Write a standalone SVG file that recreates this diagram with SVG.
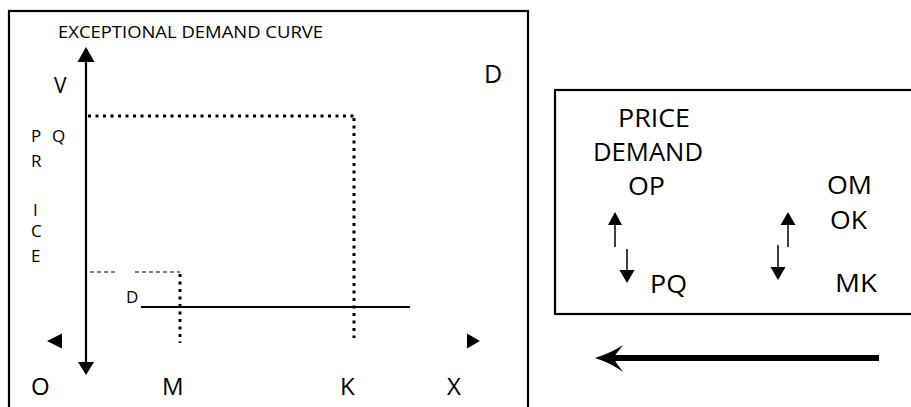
<svg xmlns="http://www.w3.org/2000/svg" width="911" height="407" viewBox="0 0 911 407">
  <style>
    text { font-family: "Open Sans", "Liberation Sans", sans-serif; fill: #000; }
    .frame { fill: #fff; stroke: #000; stroke-width: 2.2; }
    .axis { stroke: #000; stroke-width: 2.2; fill: none; }
    .dots { stroke: #000; stroke-width: 3; stroke-dasharray: 3 4.5; fill: none; }
    .dash { stroke: #000; stroke-width: 1.2; stroke-dasharray: 4 3; fill: none; }
    .thin { stroke: #000; stroke-width: 1.5; fill: none; }
    .head { fill: #000; stroke: none; }
    .big { font-size: 24px; }
    .mid { font-size: 25px; }
    .small { font-size: 17px; }
  </style>
  <rect width="911" height="407" fill="#fff"/>

  <!-- chart panel -->
  <g id="chart-panel">
    <rect class="frame" x="9" y="11" width="519" height="420"/>
    <text x="58" y="38" font-size="16.5" textLength="265" lengthAdjust="spacingAndGlyphs">EXCEPTIONAL DEMAND CURVE</text>
    <text x="54" y="93" font-size="21">V</text>
    <text x="484" y="83" font-size="25">D</text>
  </g>

  <!-- vertical axis caption -->
  <g id="price-label" class="small">
    <text x="31" y="142">P</text>
    <text x="52" y="142">Q</text>
    <text x="31" y="167">R</text>
    <text x="33" y="216">I</text>
    <text x="31" y="237">C</text>
    <text x="31" y="262">E</text>
  </g>

  <g id="curve-label">
    <text class="small" x="126" y="303">D</text>
  </g>

  <!-- horizontal axis labels -->
  <g id="axis-labels" class="big">
    <text x="31" y="395">O</text>
    <text x="162" y="395">M</text>
    <text x="340" y="395">K</text>
    <text x="447" y="395">X</text>
  </g>

  <!-- summary panel -->
  <g id="summary-panel">
    <rect class="frame" x="555" y="90" width="400" height="224"/>
    <g class="mid">
      <text x="618" y="127" textLength="72" lengthAdjust="spacingAndGlyphs">PRICE</text>
      <text x="593" y="161" textLength="110" lengthAdjust="spacingAndGlyphs">DEMAND</text>
      <text x="628" y="195" textLength="37" lengthAdjust="spacingAndGlyphs">OP</text>
      <text x="827" y="194" textLength="45" lengthAdjust="spacingAndGlyphs">OM</text>
      <text x="830" y="229" textLength="37" lengthAdjust="spacingAndGlyphs">OK</text>
      <text x="650" y="293" textLength="37" lengthAdjust="spacingAndGlyphs">PQ</text>
      <text x="835" y="292" textLength="42" lengthAdjust="spacingAndGlyphs">MK</text>
    </g>
  </g>

  <g id="connectors">
    <!-- price axis with heads at both ends -->
    <line class="axis" x1="86" y1="60" x2="86" y2="364"/>
    <polygon class="head" points="86,47 94.5,62 77.5,62"/>
    <polygon class="head" points="86,375 94,362 78,362"/>

    <!-- quantity axis end markers -->
    <polygon class="head" points="47,341 62,333.5 62,348.5"/>
    <polygon class="head" points="480,341 467,333.5 467,348.5"/>

    <!-- higher price level OP to quantity OK -->
    <line class="dots" x1="88" y1="116" x2="356" y2="116"/>
    <line class="dots" x1="354" y1="118" x2="354" y2="338"/>

    <!-- lower price level PQ to quantity OM -->
    <path class="dash" d="M90,272 H118 M135,272 H180"/>
    <line class="dots" x1="180" y1="274" x2="180" y2="343"/>

    <!-- demand line -->
    <line class="axis" x1="141" y1="307" x2="410" y2="307" stroke-width="2.6"/>

    <!-- small direction arrows -->
    <line class="thin" x1="615" y1="222" x2="615" y2="247"/>
    <polygon class="head" points="615,212 622,225 608,225"/>
    <line class="thin" x1="627" y1="249" x2="627" y2="272"/>
    <polygon class="head" points="627,283 634.5,270 619.5,270"/>
    <line class="thin" x1="788" y1="222" x2="788" y2="247"/>
    <polygon class="head" points="788,212 795.5,225 780.5,225"/>
    <line class="thin" x1="778" y1="245" x2="778" y2="270"/>
    <polygon class="head" points="778,280 785.5,267 770.5,267"/>

    <!-- large leftward arrow -->
    <line x1="612" y1="358" x2="879" y2="358" stroke="#000" stroke-width="6"/>
    <path class="head" d="M595,358 Q611,353 623,345 L613,358 L623,372 Q611,363 595,358 Z"/>
  </g>
</svg>
